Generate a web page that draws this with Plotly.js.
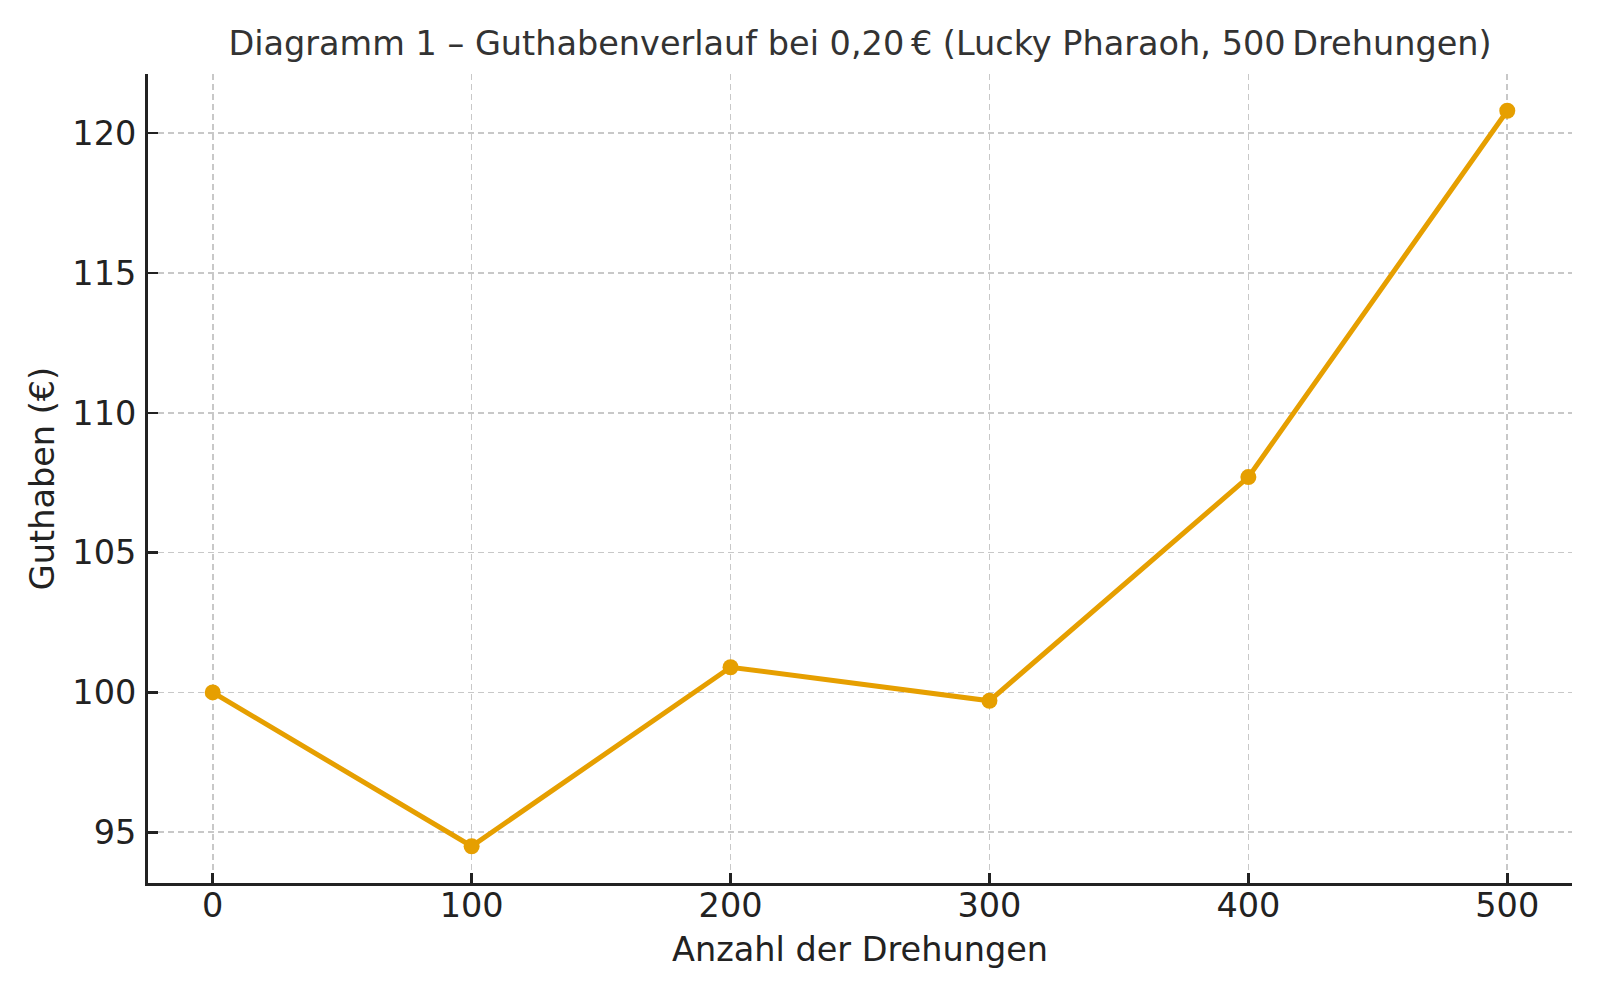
<!DOCTYPE html>
<html>
<head>
<meta charset="utf-8">
<script src="https://cdn.plot.ly/plotly-3.0.1.min.js"></script>
<style>
  html, body { margin: 0; padding: 0; background: #fff; }
  #chart { width: 1600px; height: 1000px; }
</style>
</head>
<body>
<div id="chart"></div>
<script>
// Drehungen (x) und Guthaben in Euro (y)
const drehungen = [0, 100, 200, 300, 400, 500];
const guthaben = [100, 94.5, 100.9, 99.7, 107.7, 120.8];

const titel = 'Diagramm 1 \u2013 Guthabenverlauf bei 0,20\u202F\u20AC (Lucky Pharaoh, 500\u202FDrehungen)';
const xTitel = 'Anzahl der Drehungen';
const yTitel = 'Guthaben (\u20AC)';
const xTicks = [0, 100, 200, 300, 400, 500];
const yTicks = [95, 100, 105, 110, 115, 120];

function drawChart() {
  const font = 'DejaVu Sans, sans-serif';
  const fs = 33.5;

  let trace = {
    x: drehungen,
    y: guthaben,
    type: 'scatter',
    mode: 'lines+markers',
    line: { color: '#E69F00', width: 5 },
    marker: { color: '#E69F00', size: 16 },
    hoverinfo: 'skip',
  };

  let axisCommon = {
    showline: true,
    linecolor: '#222',
    linewidth: 3,
    mirror: false,
    ticks: 'inside',
    ticklen: 10,
    tickwidth: 2.5,
    tickcolor: '#222',
    showgrid: true,
    gridcolor: '#c8c8c8',
    gridwidth: 1.6,
    griddash: '6px,4px',
    zeroline: false,
    tickfont: { family: font, size: fs, color: '#222' },
  };

  let layout = {
    width: 1600,
    height: 1000,
    margin: { l: 148, r: 28, t: 74, b: 117 },
    paper_bgcolor: '#fff',
    plot_bgcolor: '#fff',
    showlegend: false,
    title: {
      text: titel,
      font: { family: font, size: fs, color: '#333' },
      x: 0.5,
      xref: 'paper',
      xanchor: 'center',
      y: 1 - 43 / 1000,
      yref: 'container',
      yanchor: 'middle',
    },
    xaxis: Object.assign({}, axisCommon, {
      range: [-25, 525],
      tickmode: 'array',
      tickvals: xTicks,
      ticklabelstandoff: -9,
      title: { text: xTitel, font: { family: font, size: fs, color: '#222' }, standoff: 14 },
    }),
    yaxis: Object.assign({}, axisCommon, {
      range: [93.185, 122.115],
      tickmode: 'array',
      tickvals: yTicks,
      ticklabelstandoff: 2,
      title: { text: yTitel, font: { family: font, size: fs, color: '#222' }, standoff: 8 },
    }),
  };

  let config = { displayModeBar: false, staticPlot: true };

  Plotly.newPlot(document.getElementById('chart'), [trace], layout, config);
}
drawChart();
</script>
</body>
</html>
